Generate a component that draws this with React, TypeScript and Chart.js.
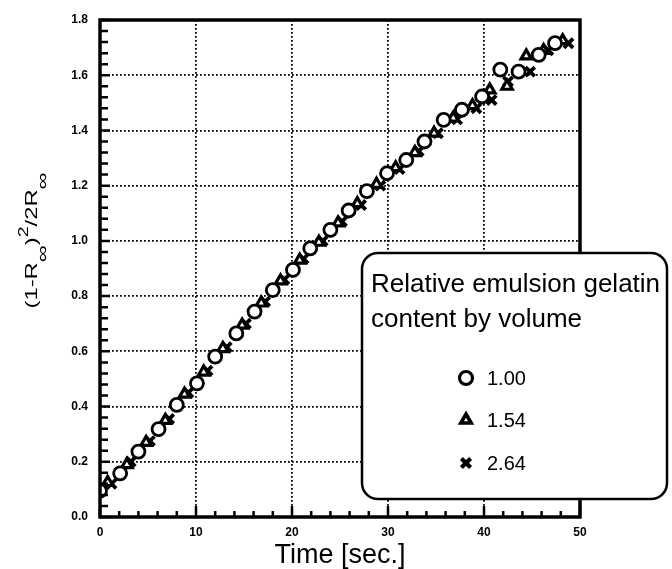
import React, { useEffect, useRef } from 'react';
import { Chart, registerables } from 'chart.js';
import { drawPoint } from 'chart.js/helpers';

Chart.register(...registerables);

// ---- data ----
const circleTime = [0, 2.1, 4, 6.1, 8, 10.1, 12, 14.2, 16.1, 18, 20.1, 21.9, 24, 25.9, 27.8, 29.9, 31.9, 33.8, 35.8, 37.7, 39.8, 41.7, 43.6, 45.7, 47.4];
const circleValue = [0.095, 0.158, 0.237, 0.318, 0.406, 0.484, 0.581, 0.665, 0.744, 0.822, 0.895, 0.973, 1.04, 1.11, 1.18, 1.245, 1.293, 1.36, 1.438, 1.475, 1.523, 1.62, 1.613, 1.674, 1.716];

const triangleTime = [0.8, 2.8, 4.8, 6.8, 8.8, 10.8, 12.8, 14.8, 16.8, 18.8, 20.8, 22.8, 24.8, 26.8, 28.8, 30.8, 32.8, 34.8, 36.8, 38.8, 40.6, 42.4, 44.4, 46.2, 48.2];
const triangleValue = [0.125, 0.19, 0.27, 0.35, 0.445, 0.525, 0.61, 0.695, 0.775, 0.855, 0.93, 0.995, 1.065, 1.135, 1.205, 1.265, 1.32, 1.39, 1.445, 1.49, 1.547, 1.56, 1.67, 1.69, 1.725];

const crossTime = [1.2, 3.2, 5.2, 7.2, 9.2, 11.2, 13.2, 15.2, 17.2, 19.2, 21.2, 23.2, 25.2, 27.2, 29.2, 31.2, 33.2, 35.2, 37.2, 39.2, 40.8, 42.5, 44.8, 46.7, 48.8];
const crossValue = [0.12, 0.2, 0.275, 0.355, 0.45, 0.53, 0.615, 0.7, 0.78, 0.86, 0.935, 1.0, 1.07, 1.13, 1.2, 1.26, 1.325, 1.39, 1.44, 1.48, 1.51, 1.577, 1.613, 1.69, 1.716];

const yMinorTicks = [0.04, 0.08, 0.12, 0.16, 0.24, 0.28, 0.32, 0.36, 0.44, 0.48, 0.52, 0.56, 0.64, 0.68, 0.72, 0.76, 0.84, 0.88, 0.92, 0.96, 1.04, 1.08, 1.12, 1.16, 1.24, 1.28, 1.32, 1.36, 1.44, 1.48, 1.52, 1.56, 1.64, 1.68, 1.72, 1.76];
const xMinorTicks = [2, 4, 6, 8, 12, 14, 16, 18, 22, 24, 26, 28, 32, 34, 36, 38, 42, 44, 46, 48];
const xTickLabels = ['0', '10', '20', '30', '40', '50'];
const yTickLabels = ['0.0', '0.2', '0.4', '0.6', '0.8', '1.0', '1.2', '1.4', '1.6', '1.8'];
const seriesLabels = ['1.00', '1.54', '2.64'];
const legendTitle = ['Relative emulsion gelatin', 'content by volume'];
const xTitle = 'Time [sec.]';

const FONT = '"Liberation Sans", Arial, Helvetica, sans-serif';

const toPoints = (xs: number[], ys: number[]) => xs.map((x, i) => ({ x, y: ys[i] }));

const styles = [
  { pointStyle: 'circle', radius: 6.5, borderWidth: 2.8, bg: '#ffffff' },
  { pointStyle: 'triangle', radius: 6, borderWidth: 3.2, bg: '#ffffff' },
  { pointStyle: 'crossRot', radius: 6.5, borderWidth: 3.8, bg: '#000000' },
];

function drawAxisDecor(chart: any) {
  const ctx: CanvasRenderingContext2D = chart.ctx;
  const area = chart.chartArea;
  const left = Number(area.left);
  const right = Number(area.right);
  const top = Number(area.top);
  const bottom = Number(area.bottom);
  const xs = chart.scales['x'];
  const ys = chart.scales['y'];
  ctx.save();
  ctx.setLineDash([]);
  ctx.globalAlpha = 1;
  ctx.lineCap = 'butt';
  ctx.strokeStyle = '#000000';
  ctx.lineWidth = 2.5;
  ctx.beginPath();
  for (const v of yMinorTicks) {
    const py = ys.getPixelForValue(v);
    ctx.moveTo(left, py);
    ctx.lineTo(left + 8, py);
  }
  for (let k = 0; k < yTickLabels.length; k++) {
    const py = ys.getPixelForValue(k * 0.2);
    ctx.moveTo(left, py);
    ctx.lineTo(left + 10, py);
  }
  for (const v of xMinorTicks) {
    const px = xs.getPixelForValue(v);
    ctx.moveTo(px, bottom);
    ctx.lineTo(px, bottom - 6);
  }
  for (let k = 0; k < xTickLabels.length; k++) {
    const px = xs.getPixelForValue(k * 10);
    ctx.moveTo(px, bottom);
    ctx.lineTo(px, bottom - 11);
  }
  ctx.stroke();
  ctx.lineWidth = 3.5;
  ctx.strokeRect(left, top, right - left, bottom - top);
  ctx.restore();
}

function drawYTitle(chart: any) {
  const { ctx, chartArea } = chart;
  const { top, bottom } = chartArea;
  ctx.save();
  const scaleX = 1.4;
  const segs = [
    { t: '(1-R', size: 17, dy: 0 },
    { t: '\u221E', size: 17, dy: 11 },
    { t: ')', size: 17, dy: 0 },
    { t: '2', size: 14, dy: -9 },
    { t: '/2R', size: 17, dy: 0 },
    { t: '\u221E', size: 17, dy: 11 },
  ];
  let total = 0;
  for (const s of segs) {
    ctx.font = `${s.size}px ${FONT}`;
    total += ctx.measureText(s.t).width;
  }
  const cx = 37;
  const cy = (top + bottom) / 2 - 28;
  ctx.translate(cx, cy);
  ctx.rotate(-Math.PI / 2);
  ctx.scale(scaleX, 1);
  ctx.fillStyle = '#000';
  ctx.textBaseline = 'alphabetic';
  ctx.textAlign = 'left';
  let u = -total / 2;
  for (const s of segs) {
    ctx.font = `${s.size}px ${FONT}`;
    ctx.fillText(s.t, u, s.dy);
    u += ctx.measureText(s.t).width;
  }
  ctx.restore();
}

function drawLegendBox(chart: any) {
  const { ctx } = chart;
  ctx.save();
  const bx = 362, by = 253, bw = 305, bh = 246;
  ctx.beginPath();
  ctx.roundRect(bx, by, bw, bh, 16);
  ctx.fillStyle = '#ffffff';
  ctx.fill();
  ctx.lineWidth = 2.5;
  ctx.strokeStyle = '#000';
  ctx.stroke();

  ctx.fillStyle = '#000';
  ctx.textAlign = 'left';
  ctx.textBaseline = 'alphabetic';
  ctx.font = `26px ${FONT}`;
  ctx.fillText(legendTitle[0], 371, 292);
  ctx.fillText(legendTitle[1], 371, 327);

  const markerY = [378, 420, 463];
  const labelY = [385, 427, 470];
  ctx.font = `20px ${FONT}`;
  seriesLabels.forEach((lab, i) => {
    const st = styles[i];
    ctx.save();
    ctx.strokeStyle = '#000';
    ctx.fillStyle = st.bg;
    ctx.lineWidth = st.borderWidth + 0.4;
    drawPoint(ctx, { pointStyle: st.pointStyle as any, radius: st.radius, rotation: 0, borderWidth: st.borderWidth + 0.4 }, 466, markerY[i]);
    ctx.restore();
    ctx.fillStyle = '#000';
    ctx.fillText(lab, 487, labelY[i]);
  });
  ctx.restore();
}

const decorPlugin = {
  id: 'decorPlugin',
  afterDraw(chart: any) {
    drawAxisDecor(chart);
    drawYTitle(chart);
    drawLegendBox(chart);
  },
};

export default function App() {
  const canvasRef = useRef<HTMLCanvasElement | null>(null);

  useEffect(() => {
    if (!canvasRef.current) return;
    const data = [
      toPoints(circleTime, circleValue),
      toPoints(triangleTime, triangleValue),
      toPoints(crossTime, crossValue),
    ];
    const chart = new Chart(canvasRef.current, {
      type: 'scatter',
      data: {
        datasets: seriesLabels.map((lab, i) => ({
          label: lab,
          data: data[i],
          pointStyle: styles[i].pointStyle as any,
          pointRadius: styles[i].radius,
          pointBorderWidth: styles[i].borderWidth,
          borderColor: '#000',
          backgroundColor: styles[i].bg,
          pointBackgroundColor: styles[i].bg,
          pointBorderColor: '#000',
          showLine: false,
          order: i,
        })),
      },
      options: {
        animation: false,
        responsive: false,
        layout: { padding: { top: 20, right: 92, left: 0, bottom: 0 } },
        plugins: {
          legend: { display: false },
          tooltip: { enabled: false },
        },
        scales: {
          x: {
            type: 'linear',
            min: 0,
            max: 50,
            afterFit: (s: any) => { s.height = 52; },
            ticks: {
              stepSize: 10,
              color: '#000',
              padding: 8,
              font: { family: FONT, size: 12, weight: 'bold' },
              callback: (v: any) => xTickLabels[Math.round(Number(v) / 10)] ?? '',
            },
            grid: {
              color: '#000',
              lineWidth: 1.8,
              drawTicks: false,
            },
            border: { display: false, dash: [1.8, 2.2] },
            title: {
              display: true,
              text: xTitle,
              color: '#000',
              font: { family: FONT, size: 27, lineHeight: 1 },
              padding: { top: 0, bottom: 0 },
            },
          },
          y: {
            type: 'linear',
            min: 0,
            max: 1.8,
            afterFit: (s: any) => { s.width = 100; },
            ticks: {
              stepSize: 0.2,
              color: '#000',
              padding: 12,
              font: { family: FONT, size: 12, weight: 'bold' },
              callback: (v: any) => yTickLabels[Math.round(Number(v) / 0.2)] ?? '',
            },
            grid: {
              color: '#000',
              lineWidth: 1.8,
              drawTicks: false,
            },
            border: { display: false, dash: [1.8, 2.2] },
          },
        },
      },
      plugins: [decorPlugin],
    });
    return () => chart.destroy();
  }, []);

  return (
    <div style={{ position: 'absolute', left: 0, top: 0, width: 672, height: 569, background: '#fff' }}>
      <canvas ref={canvasRef} width={672} height={569} style={{ display: 'block' }} />
    </div>
  );
}
